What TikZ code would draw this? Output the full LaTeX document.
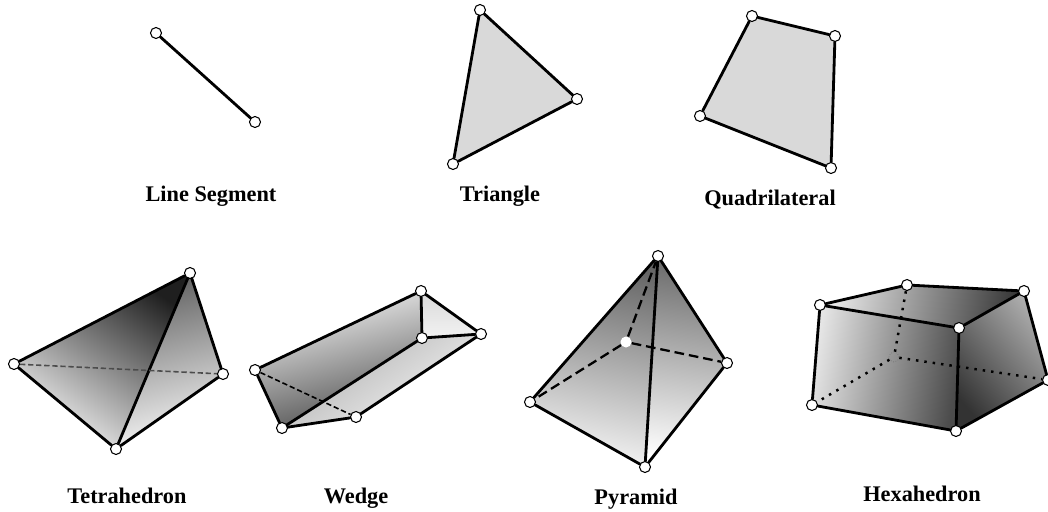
\documentclass[tikz,border=0pt]{standalone}
\usepackage{fontspec}
\setmainfont{Liberation Serif}
\usetikzlibrary{backgrounds}

\begin{document}
\begin{tikzpicture}[x=0.02cm,y=-0.02cm,
  vtx/.style={draw,circle,fill=white,line width=0.6pt,inner sep=0pt,minimum size=0.22cm},
  hidvtx/.style={circle,fill=white,inner sep=0pt,minimum size=0.22cm},
  ghostvtx/.style={draw=black!55,densely dotted,circle,line width=0.4pt,inner sep=0pt,minimum size=0.2cm},
  edge/.style={line width=1.6pt,line cap=round},
  hidedge/.style={line width=1.3pt,dash pattern=on 5.5pt off 2.8pt},
  thinhid/.style={line width=0.9pt,dash pattern=on 3pt off 1.6pt},
  dothid/.style={line width=1.4pt,dash pattern=on 1.4pt off 3.4pt},
  lab/.style={font=\fontsize{12.7}{14}\selectfont\bfseries,inner sep=0pt}]
  \useasboundingbox (0,0) rectangle (1048,511);
  % line segment
  \node[vtx] (l1) at (156,33) {};
  \node[vtx] (l2) at (255,122) {};
  \draw[edge] (l1) -- (l2);
  \node[lab] (lLab) at (211,196) {Line Segment};
  % triangle
  \node[vtx] (t1) at (480,10) {};
  \node[vtx] (t2) at (577,99) {};
  \node[vtx] (t3) at (453,164) {};
  \begin{pgfonlayer}{background}
    \fill[black!15] (t1.center) -- (t2.center) -- (t3.center) -- cycle;
  \end{pgfonlayer}
  \draw[edge] (t1) -- (t2);
  \draw[edge] (t2) -- (t3);
  \draw[edge] (t3) -- (t1);
  \node[lab] (tLab) at (500,196) {Triangle};
  % quadrilateral
  \node[vtx] (q1) at (752,16) {};
  \node[vtx] (q2) at (835,36) {};
  \node[vtx] (q3) at (831,168) {};
  \node[vtx] (q4) at (700,116) {};
  \begin{pgfonlayer}{background}
    \fill[black!15] (q1.center) -- (q2.center) -- (q3.center) -- (q4.center) -- cycle;
  \end{pgfonlayer}
  \draw[edge] (q1) -- (q2);
  \draw[edge] (q2) -- (q3);
  \draw[edge] (q3) -- (q4);
  \draw[edge] (q4) -- (q1);
  \node[lab] (qLab) at (770,200) {Quadrilateral};
  % tetrahedron
  \node[vtx] (a1) at (14,364) {};
  \node[vtx] (a2) at (190,273) {};
  \node[vtx] (a3) at (223,374) {};
  \node[vtx] (a4) at (116,449) {};
  \begin{pgfonlayer}{background}
    \shade[top color=black!88,bottom color=black!4,shading angle=-35] (a1.center) -- (a2.center) -- (a4.center) -- cycle;
    \shade[top color=black!62,bottom color=black!3,shading angle=15] (a2.center) -- (a3.center) -- (a4.center) -- cycle;
  \end{pgfonlayer}
  \draw[edge] (a1) -- (a2);
  \draw[edge] (a2) -- (a3);
  \draw[edge] (a3) -- (a4);
  \draw[edge] (a4) -- (a1);
  \draw[edge] (a2) -- (a4);
  \draw[thinhid,black!70] (a1) -- (a3);
  \node[lab] (aLab) at (127,496) {Tetrahedron};
  % wedge
  \node[vtx] (w1) at (255,370) {};
  \node[vtx] (w2) at (421,291) {};
  \node[vtx] (w3) at (481,334) {};
  \node[vtx] (w4) at (422,338) {};
  \node[vtx] (w5) at (282,428) {};
  \node[vtx] (w6) at (356,417) {};
  \begin{pgfonlayer}{background}
    \shade[top color=black!3,bottom color=black!70,shading angle=15] (w1.center) -- (w2.center) -- (w4.center) -- (w5.center) -- cycle;
    \shade[top color=black!15,bottom color=black!5,shading angle=0] (w2.center) -- (w3.center) -- (w4.center) -- cycle;
    \shade[top color=black!32,bottom color=black!3,shading angle=35] (w5.center) -- (w4.center) -- (w3.center) -- (w6.center) -- cycle;
  \end{pgfonlayer}
  \draw[edge] (w1) -- (w2);
  \draw[edge] (w2) -- (w3);
  \draw[edge] (w2) -- (w4);
  \draw[edge] (w4) -- (w3);
  \draw[edge] (w4) -- (w5);
  \draw[edge] (w1) -- (w5);
  \draw[edge] (w5) -- (w6);
  \draw[edge] (w6) -- (w3);
  \draw[thinhid] (w1) -- (w6);
  \node[lab] (wLab) at (356,498) {Wedge};
  % pyramid
  \node[vtx] (p1) at (658,256) {};
  \node[vtx] (p2) at (530,402) {};
  \node[vtx] (p3) at (727,363) {};
  \node[vtx] (p4) at (645,467) {};
  \node[hidvtx] (p5) at (626,342) {};
  \begin{pgfonlayer}{background}
    \shade[top color=black!60,bottom color=black!4,shading angle=-12] (p1.center) -- (p2.center) -- (p4.center) -- cycle;
    \shade[top color=black!58,bottom color=black!0,shading angle=-8] (p1.center) -- (p3.center) -- (p4.center) -- cycle;
  \end{pgfonlayer}
  \draw[edge] (p1) -- (p2);
  \draw[edge] (p1) -- (p3);
  \draw[edge] (p3) -- (p4);
  \draw[edge] (p4) -- (p2);
  \draw[edge] (p1) -- (p4);
  \draw[hidedge] (p5) -- (p1);
  \draw[hidedge] (p5) -- (p2);
  \draw[hidedge] (p5) -- (p3);
  \node[lab] (pLab) at (636,499) {Pyramid};
  % hexahedron
  \node[vtx] (h1) at (820,305) {};
  \node[vtx] (h2) at (907,285) {};
  \node[vtx] (h3) at (1024,291) {};
  \node[vtx] (h4) at (959,328) {};
  \node[vtx] (h5) at (812,405) {};
  \node[vtx] (h6) at (956,431) {};
  \node[vtx] (h7) at (1048,380) {};
  \node[ghostvtx] (h8) at (894,357) {};
  \begin{pgfonlayer}{background}
    \shade[top color=black!10,bottom color=black!70,shading angle=80] (h1.center) -- (h4.center) -- (h6.center) -- (h5.center) -- cycle;
    \shade[top color=black!8,bottom color=black!78,shading angle=80] (h1.center) -- (h2.center) -- (h3.center) -- (h4.center) -- cycle;
    \shade[top color=black!32,bottom color=black!80,shading angle=-50] (h4.center) -- (h3.center) -- (h7.center) -- (h6.center) -- cycle;
  \end{pgfonlayer}
  \draw[edge] (h1) -- (h2);
  \draw[edge] (h2) -- (h3);
  \draw[edge] (h3) -- (h4);
  \draw[edge] (h4) -- (h1);
  \draw[edge] (h1) -- (h5);
  \draw[edge] (h5) -- (h6);
  \draw[edge] (h6) -- (h7);
  \draw[edge] (h7) -- (h3);
  \draw[edge] (h4) -- (h6);
  \draw[dothid] (h8) -- (h2);
  \draw[dothid] (h8) -- (h5);
  \draw[dothid] (h8) -- (h7);
  \node[lab] (hLab) at (922,494) {Hexahedron};
\end{tikzpicture}
\end{document}
